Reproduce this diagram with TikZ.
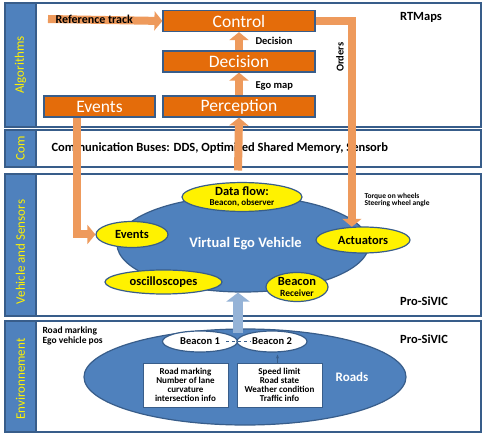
\documentclass[tikz,border=0pt]{standalone}
\usepackage{fontspec}
\setmainfont{Carlito}
\usetikzlibrary{shapes.geometric,arrows.meta}
\definecolor{stripblue}{HTML}{4F81BD}
\definecolor{edgeblue}{HTML}{385D8A}
\definecolor{blockorange}{HTML}{E46C0A}
\definecolor{arrorange}{HTML}{EE9A5C}
\definecolor{lightarr}{HTML}{95B3D7}
\newcommand{\fs}[1]{\fontsize{#1}{#1}\selectfont}

\begin{document}
\begin{tikzpicture}[x=1pt, y=-1pt,
    band/.style={draw=edgeblue, line width=1.2pt, fill=white},
    strip/.style={draw=edgeblue, line width=1.2pt, fill=stripblue},
    striplabel/.style={rotate=90, text=yellow, font=\fs{13}},
    block/.style={draw=edgeblue, line width=1.2pt, fill=blockorange, text=white,
      minimum width=152pt, minimum height=21pt, inner sep=0pt, font=\fs{17.5}},
    bubble/.style={ellipse, draw=edgeblue, line width=1.2pt, fill=yellow,
      inner sep=0pt, align=center, font=\bfseries\fs{12.5}},
    whitebubble/.style={ellipse, draw=edgeblue, line width=1.2pt, fill=white,
      inner sep=0pt, font=\bfseries\fs{10.5}},
    infobox/.style={draw=edgeblue, line width=1pt, fill=white, align=center,
      minimum width=85pt, minimum height=44pt, inner sep=0pt, font=\bfseries\fs{9}},
    note/.style={font=\bfseries\fs{10.5}},
    small/.style={font=\bfseries\fs{7.5}, align=left, anchor=west},
    flow/.style={draw=arrorange, line width=8pt, -{Triangle[length=8pt,width=19pt]}},
  ]
  \useasboundingbox (0,0) rectangle (487,435);

  % layers
  \draw[band] (5,3) rectangle (481,127);
  \draw[strip] (5,3) rectangle (36,127);
  \node[striplabel] (lalg) at (20.5,65) {Algorithms};
  \draw[band] (5,130) rectangle (481,167);
  \draw[strip] (5,130) rectangle (36,167);
  \node[striplabel] (lcom) at (20.5,148.5) {Com};
  \draw[band] (5,174) rectangle (481,316);
  \draw[strip] (5,174) rectangle (36,316);
  \node[striplabel] (lveh) at (20.5,252) {Vehicle and Sensors};
  \draw[band] (5,321) rectangle (481,432);
  \draw[strip] (5,321) rectangle (36,432);
  \node[striplabel] (lenv) at (20.5,379) {Environnement};

  % algorithms
  \node[block] (ctrl) at (239,21) {Control};
  \node[block] (dec) at (239,61.5) {Decision};
  \node[block] (perc) at (239,106.5) {Perception};
  \node[block, minimum width=111pt] (evb) at (99.5,106.5) {Events};
  \node[font=\bfseries\fs{12.5}] (rtm) at (421,17) {RTMaps};
  \node[font=\bfseries\fs{12.5}, anchor=west] (bus) at (48,148.5)
    {Communication Buses: DDS, Optimized Shared Memory, Sensorb};

  % vehicle
  \node[ellipse, fill=stripblue, draw=edgeblue, line width=1.2pt,
    minimum width=252pt, minimum height=96pt] (veh) at (243,244) {};
  \node[text=white, font=\bfseries\fs{14.5}] (vtxt) at (245.5,244) {Virtual Ego Vehicle};
  \node[bubble, minimum width=120pt, minimum height=28pt] (dflow) at (242,197)
    {Data flow:\\[-2pt]{\fs{9}Beacon, observer}};
  \node[bubble, minimum width=72pt, minimum height=26pt] (evt) at (132,234.5) {Events};
  \node[bubble, minimum width=94pt, minimum height=26pt] (act) at (363,240) {Actuators};
  \node[bubble, minimum width=117pt, minimum height=24pt] (osc) at (163.5,282) {oscilloscopes};
  \node[bubble, minimum width=62pt, minimum height=29pt] (brx) at (297,287)
    {Beacon\\[-2pt]{\fs{9.5}Receiver}};
  \node[small] (torq) at (361,200) {Torque on wheels\\Steering wheel angle};
  \node[font=\bfseries\fs{12.5}] (pro1) at (424,301) {Pro-SiVIC};

  % environment
  \node[ellipse, fill=stripblue, draw=edgeblue, line width=1.2pt,
    minimum width=322pt, minimum height=96pt] (road) at (245,377) {};
  \node[text=white, font=\bfseries\fs{13}] (rtxt) at (352,377) {Roads};
  \node[whitebubble, minimum width=75pt, minimum height=21pt] (b1) at (200,341.5) {Beacon 1};
  \node[whitebubble, minimum width=70pt, minimum height=21pt] (b2) at (272,341.5) {Beacon 2};
  \node[infobox] (lbox) at (185.5,385)
    {Road marking\\Number of lane\\curvature\\intersection info};
  \node[infobox] (rbox) at (279.5,385)
    {Speed limit\\Road state\\Weather condition\\Traffic info};
  \node[small, font=\bfseries\fs{9.5}] (rmark) at (39,336) {Road marking\\Ego vehicle pos};
  \node[font=\bfseries\fs{12.5}] (pro2) at (424,339) {Pro-SiVIC};
  \coordinate (bcn) at (238,333);

  % connectors
  \draw[flow] (perc.north) -- (dec.south);
  \node[note, anchor=west] (egom) at (252,86) {Ego map};
  \draw[flow] (dec.north) -- (ctrl.south);
  \node[note, anchor=west] (decl) at (252,41) {Decision};
  \coordinate (reft) at (48,19);
  \draw[flow] (reft) -- (ctrl.west);
  \node[note, anchor=west, font=\bfseries\fs{12}] (refl) at (52,19.5) {Reference track};
  \draw[flow] (ctrl.east) -| (act.130);
  \node[note, rotate=90] (ord) at (340,57) {Orders};
  \draw[flow] ([xshift=-22.5pt]evb.south) |- (evt.west);
  \coordinate (vtop) at (238,170.5);
  \draw[flow] (vtop) -- (perc.south);
  \draw[draw=lightarr, line width=10pt, -{Triangle[length=9pt,width=23pt]}]
    (bcn) -- (bcn |- veh.south);
  \draw[edgeblue, line width=1pt, dashed] ([xshift=-12pt]b1.east) -- ([xshift=14pt]b2.west);
  \draw[edgeblue, line width=0.8pt, -{Stealth[length=4pt]}] ([xshift=-2pt]rbox.north) -- ++(0,-8);
\end{tikzpicture}
\end{document}
